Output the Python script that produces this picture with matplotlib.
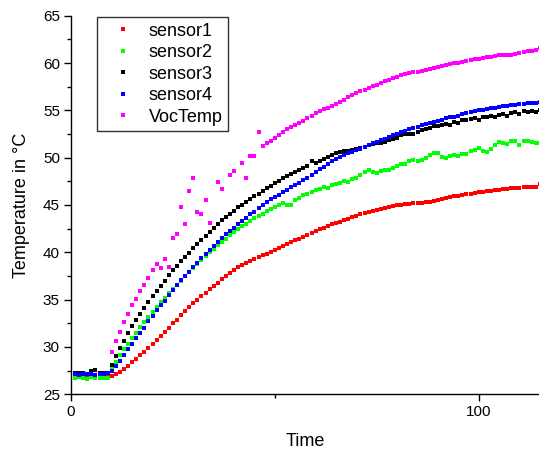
import matplotlib
matplotlib.use('Agg')
import matplotlib.pyplot as plt
import matplotlib.ticker
import numpy as np

nan = np.nan

# time in samples, t = 1 .. 115
time = list(range(1, 116))

sensor1 = [26.9, 26.9, 26.85, 26.9, 26.9, 26.9, 26.9, 26.85, 26.9,
           26.97, 27.15, 27.4, 27.7, 28.0, 28.4, 28.7, 29.1, 29.45, 29.9,
           30.3, 30.75, 31.15, 31.6, 32.05, 32.5, 32.9, 33.4, 33.75, 34.2,
           34.6, 35.0, 35.4, 35.7, 36.1, 36.45, 36.8, 37.2, 37.5, 37.8,
           38.1, 38.4, 38.65, 38.9, 39.1, 39.3, 39.5, 39.7, 39.85, 40.05,
           40.25, 40.45, 40.65, 40.85, 41.05, 41.25, 41.45, 41.65, 41.85, 42.05,
           42.25, 42.45, 42.6, 42.8, 42.95, 43.1, 43.25, 43.4, 43.55, 43.7,
           43.85, 44.0, 44.15, 44.3, 44.4, 44.5, 44.6, 44.7, 44.8, 44.9,
           45.0, 45.05, 45.1, 45.15, 45.2, 45.2, 45.25, 45.3, 45.3, 45.4,
           45.5, 45.6, 45.7, 45.8, 45.9, 46.0, 46.05, 46.15, 46.2, 46.3,
           46.35, 46.4, 46.45, 46.5, 46.55, 46.6, 46.65, 46.7, 46.75, 46.75,
           46.8, 46.85, 46.9, 46.9, 46.95, 47.2]

sensor2 = [26.75, 26.8, 26.7, 26.6, 26.8, 26.75, 26.7, 26.75, 26.75,
           27.9, 28.45, 29.1, 29.75, 30.3, 30.9, 31.45, 32.1, 32.6, 33.2,
           33.7, 34.2, 34.7, 35.2, 35.65, 36.1, 36.55, 37.0, 37.45, 37.9,
           38.35, 38.8, 39.2, 39.6, 40.0, 40.4, 40.75, 41.1, 41.45, 41.8,
           42.1, 42.45, 42.75, 42.95, 43.3, 43.6, 43.85, 44.1, 44.35, 44.6,
           44.8, 45.0, 45.25, 44.95, 45.05, 45.5, 45.75, 46.1, 46.2, 46.35,
           46.55, 46.7, 46.9, 46.8, 47.1, 47.25, 47.3, 47.5, 47.45, 47.75,
           47.9, 48.15, 48.45, 48.7, 48.5, 48.4, 48.6, 48.7, 48.75, 48.9,
           49.1, 49.35, 49.3, 49.6, 49.8, 49.6, 49.75, 49.95, 50.3, 50.5,
           50.45, 50.1, 49.95, 50.2, 50.25, 50.15, 50.35, 50.4, 50.7, 50.85,
           51.0, 50.75, 50.6, 50.95, 51.3, 51.65, 51.55, 51.45, 51.75, 51.8,
           51.3, 51.75, 51.8, 51.65, 51.55, 51.5]

sensor3 = [27.3, 27.3, 27.2, 27.1, 27.5, 27.6, 27.3, 27.3, 27.3,
           28.05, 29.0, 29.85, 30.65, 31.45, 32.2, 32.85, 33.5, 34.15, 34.8,
           35.35, 35.9, 36.45, 37.0, 37.6, 38.1, 38.55, 39.1, 39.5, 39.95,
           40.5, 40.85, 41.35, 41.7, 42.2, 42.6, 43.0, 43.4, 43.75, 44.1,
           44.4, 44.75, 45.05, 45.35, 45.65, 45.95, 46.2, 46.5, 46.75, 47.0,
           47.3, 47.55, 47.8, 48.05, 48.3, 48.5, 48.7, 48.9, 49.1, 49.65,
           49.45, 49.7, 49.9, 50.05, 50.25, 50.45, 50.6, 50.7, 50.75, 50.8,
           50.9, 51.0, 51.15, 51.3, 51.4, 51.5, 51.6, 51.7, 51.85, 51.95,
           52.1, 52.35, 52.45, 52.5, 52.45, 52.75, 52.9, 53.0, 53.1, 53.3,
           53.3, 53.45, 53.55, 53.5, 53.75, 53.7, 53.95, 54.0, 54.05, 54.15,
           54.0, 54.25, 54.35, 54.45, 54.35, 54.5, 54.6, 54.45, 54.7, 54.8,
           54.65, 54.95, 54.85, 54.9, 54.85, 55.0]

sensor4 = [27.1, 27.0, 27.1, 27.1, 27.1, 27.0, 27.1, 27.1, 27.2,
           27.45, 28.0, 28.5, 29.15, 29.75, 30.3, 30.9, 31.45, 32.0, 32.7,
           33.3, 33.9, 34.45, 34.9, 35.45, 36.0, 36.5, 37.1, 37.5, 37.95,
           38.4, 38.9, 39.35, 39.8, 40.2, 40.7, 41.1, 41.5, 41.9, 42.25,
           42.6, 42.95, 43.3, 43.65, 44.0, 44.3, 44.65, 44.95, 45.3, 45.6,
           45.85, 46.1, 46.35, 46.6, 46.85, 47.1, 47.35, 47.6, 47.9, 48.2,
           48.5, 48.8, 49.05, 49.35, 49.65, 49.9, 50.1, 50.3, 50.45, 50.6,
           50.8, 50.95, 51.15, 51.3, 51.5, 51.65, 51.85, 52.0, 52.2, 52.35,
           52.55, 52.7, 52.85, 53.0, 53.15, 53.25, 53.4, 53.55, 53.65, 53.8,
           53.9, 54.0, 54.15, 54.25, 54.35, 54.45, 54.6, 54.7, 54.8, 54.9,
           55.0, 55.05, 55.15, 55.25, 55.3, 55.4, 55.45, 55.5, 55.55, 55.6,
           55.65, 55.7, 55.75, 55.8, 55.8, 55.85]

voc_temp = [nan, nan, nan, nan, nan, nan, nan, nan, nan,
            29.5, 30.6, 31.6, 32.6, 33.5, 34.4, 35.1, 35.9, 36.6, 37.3,
            38.1, 38.8, 38.3, 39.3, 38.5, 41.5, 41.9, 44.75, 43.0, 46.5,
            47.9, 44.3, 44.1, 45.5, 43.1, nan, 47.45, 46.7, nan, 48.2,
            48.6, nan, 49.45, 47.8, 50.2, 50.2, 52.7, 51.2, 51.5, 51.8,
            52.1, 52.4, 52.7, 53.0, 53.2, 53.5, 53.7, 53.9, 54.2, 54.4,
            54.7, 54.9, 55.1, 55.3, 55.5, 55.7, 55.9, 56.1, 56.4, 56.6,
            56.8, 57.0, 57.2, 57.4, 57.6, 57.7, 57.9, 58.1, 58.2, 58.4,
            58.5, 58.7, 58.8, 58.9, 59.0, 59.1, 59.2, 59.3, 59.4, 59.5,
            59.6, 59.7, 59.8, 59.9, 60.0, 60.0, 60.1, 60.2, 60.3, 60.4,
            60.4, 60.5, 60.6, 60.6, 60.7, 60.8, 60.8, 60.9, 60.9, 61.0,
            61.1, 61.2, 61.3, 61.3, 61.4, 61.6]

series = [sensor1, sensor2, sensor3, sensor4, voc_temp]
labels = ['sensor1', 'sensor2', 'sensor3', 'sensor4', 'VocTemp']
colors = ['#ff0000', '#00ff00', '#000000', '#0000ff', '#ff00ff']

plt.rcParams['font.family'] = ['Liberation Sans', 'DejaVu Sans']

fig = plt.figure(figsize=(5.39, 4.5), dpi=100)
ax = fig.add_axes([71 / 539, 1 - 394.3 / 450, 468 / 539, 378.6 / 450])

for i in range(len(series)):
    ax.plot(time, series[i], linestyle='none', marker='s', markersize=3.4,
            markeredgewidth=0, color=colors[i], label=labels[i])

ax.set_xlim(0, 114.8)
ax.set_ylim(25, 65)
ax.xaxis.set_major_locator(matplotlib.ticker.MultipleLocator(100))
ax.xaxis.set_minor_locator(matplotlib.ticker.MultipleLocator(50))
ax.yaxis.set_major_locator(matplotlib.ticker.MultipleLocator(5))
ax.yaxis.set_minor_locator(matplotlib.ticker.MultipleLocator(2.5))
ax.tick_params(which='major', direction='out', length=5, width=1, labelsize=11, pad=3)
ax.tick_params(which='minor', direction='out', length=3, width=1)

ax.spines['top'].set_visible(False)
ax.spines['right'].set_visible(False)
ax.spines['left'].set_linewidth(1)
ax.spines['bottom'].set_linewidth(1)

ax.set_xlabel('Time', fontsize=13, labelpad=10)
ax.set_ylabel('Temperature in °C', fontsize=13, labelpad=9)

leg = ax.legend(loc='upper left', bbox_to_anchor=(0.0556, 0.996), borderaxespad=0,
                fontsize=13, markerscale=1.0, handlelength=2.3, handletextpad=0.25,
                labelspacing=0.25, borderpad=0.3, fancybox=False, framealpha=1)
leg.get_frame().set_edgecolor('#333333')
leg.get_frame().set_linewidth(1)

plt.savefig('out.png', dpi=100)
